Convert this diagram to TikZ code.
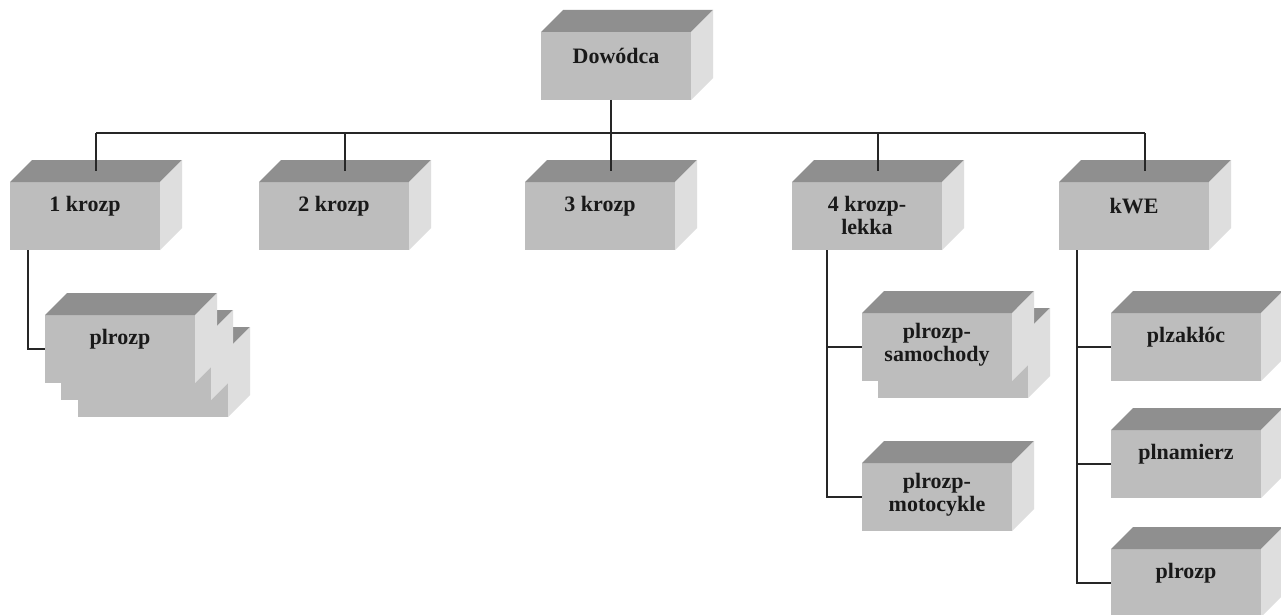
\documentclass[tikz,border=0pt]{standalone}
\usepackage{fontspec}
\setmainfont{Liberation Serif}
\usetikzlibrary{calc}
\definecolor{frontc}{gray}{0.74}
\definecolor{topc}{gray}{0.56}
\definecolor{sidec}{gray}{0.87}
\tikzset{
  front/.style={fill=frontc, minimum width=150pt, minimum height=68pt, inner sep=0pt, outer sep=0pt, anchor=north west},
  txt/.style={font=\bfseries\fontsize{22}{23}\selectfont, align=center, inner sep=0pt, text=black!90},
  conn/.style={line width=1.5pt, black!85},
}
\newcommand\cubeshape[3]{%
  \node[front] (#1) at (#2,#3) {};
  \fill[topc] (#1.north west) -- ++(22,-22) -- ($(#1.north east)+(22,-22)$) -- (#1.north east) -- cycle;
  \fill[sidec] (#1.north east) -- ++(22,-22) -- ($(#1.south east)+(22,-22)$) -- (#1.south east) -- cycle;
  \coordinate (#1c) at ($(#1.north)+(11,-11)$);
}
\newcommand\cubelabel[3]{%
  \node[txt] (#1l) at ($(#1.center)+(0,#2)$) {#3};
}
\begin{document}
\begin{tikzpicture}[x=1pt,y=-1pt]
\useasboundingbox[fill=white] (0,0) rectangle (1281,615);
% top
\cubeshape{dow}{541}{32}\cubelabel{dow}{-10}{Dowódca}
% level 1
\cubeshape{ka}{10}{182}\cubelabel{ka}{-10}{1 krozp}
\cubeshape{kb}{259}{182}\cubelabel{kb}{-10}{2 krozp}
\cubeshape{kc}{525}{182}\cubelabel{kc}{-10}{3 krozp}
\cubeshape{kd}{792}{182}\cubelabel{kd}{-1}{4 krozp-\\lekka}
\cubeshape{ke}{1059}{182}\cubelabel{ke}{-10}{kWE}
% stacked plrozp under 1 krozp
\cubeshape{paz}{78}{349}
\cubeshape{pay}{61}{332}
\cubeshape{pa}{45}{315}\cubelabel{pa}{-10}{plrozp}
% under 4 krozp
\cubeshape{psy}{878}{330}
\cubeshape{ps}{862}{313}\cubelabel{ps}{-2}{plrozp-\\samochody}
\cubeshape{pm}{862}{463}\cubelabel{pm}{-2}{plrozp-\\motocykle}
% under kWE
\cubeshape{pz}{1111}{313}\cubelabel{pz}{-10}{plzakłóc}
\cubeshape{pn}{1111}{430}\cubelabel{pn}{-10}{plnamierz}
\cubeshape{pr}{1111}{549}\cubelabel{pr}{-10}{plrozp}
% connectors
\coordinate (bus) at (0,133);
\draw[conn] (kac |- bus) -- (kec |- bus);
\draw[conn] (dow.south -| kcc) -- (kcc |- bus);
\foreach \n in {ka,kb,kc,kd,ke} \draw[conn] (\n c |- bus) -- (\n c);
\coordinate (kaB) at ($(ka.south west)+(18,0)$);
\draw[conn] (kaB) |- (pa.west);
\coordinate (kdB) at ($(kd.south west)+(35,0)$);
\draw[conn] (kdB) |- (pm.west);
\draw[conn] (kdB |- ps.west) -- (ps.west);
\coordinate (keB) at ($(ke.south west)+(18,0)$);
\draw[conn] (keB) |- (pr.west);
\draw[conn] (keB |- pz.west) -- (pz.west);
\draw[conn] (keB |- pn.west) -- (pn.west);
\end{tikzpicture}
\end{document}
